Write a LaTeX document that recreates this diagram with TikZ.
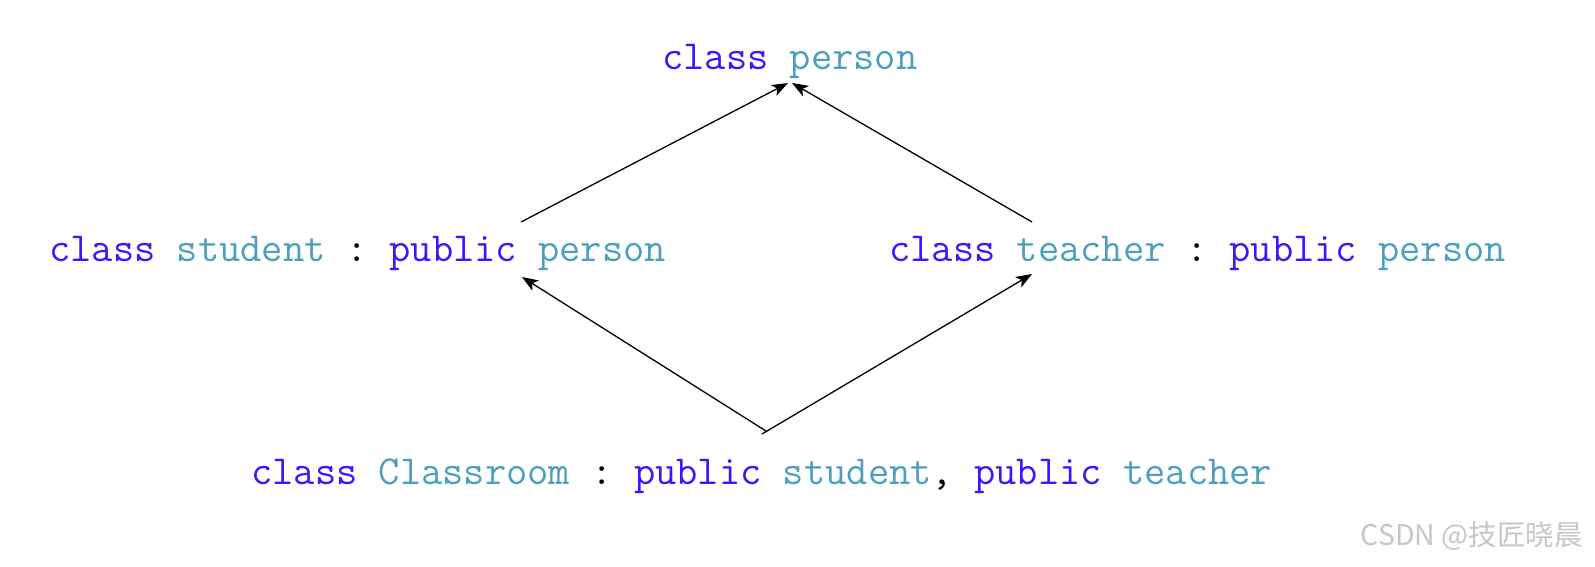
\documentclass[tikz,border=0pt]{standalone}
\usepackage{fontspec}
\usepackage{xcolor}
\usepackage{tikz}
\usetikzlibrary{arrows.meta, positioning, calc}
\setmonofont{Latin Modern Mono}
\newfontfamily\cjk{Noto Sans CJK SC}
\definecolor{kwblue}{RGB}{64,20,255}
\definecolor{typeteal}{RGB}{75,160,190}
\newcommand{\kw}[1]{\textcolor{kwblue}{#1}}
\newcommand{\ty}[1]{\textcolor{typeteal}{#1}}

\begin{document}
\begin{tikzpicture}[
    x=1pt, y=-1pt,
    decl/.style={anchor=base west, inner sep=0pt, font=\fontsize{41.3}{44}\selectfont\ttfamily},
    arr/.style={-{Stealth[length=16pt, width=12pt, inset=4pt]}, line width=1.3pt}
  ]
  \useasboundingbox (0,0) rectangle (1595,566);

  % Base class
  \node[decl] (person) at (662,69) {\kw{class} \ty{person}};

  % Derived classes
  \node[decl] (student) at (49,261) {\kw{class} \ty{student} : \kw{public} \ty{person}};
  \node[decl] (teacher) at (889,261) {\kw{class} \ty{teacher} : \kw{public} \ty{person}};

  % Most derived class
  \node[decl] (classroom) at (251,484) {\kw{class} \ty{Classroom} : \kw{public} \ty{student}, \kw{public} \ty{teacher}};

  % Arrow ends
  \coordinate (pTipL) at (788,83);
  \coordinate (pTipR) at (792,83);
  \coordinate (sTop) at (521,222);
  \coordinate (tTop) at (1032,222);
  \coordinate (sTip) at (522,277);
  \coordinate (tTip) at (1032,274);
  \coordinate (apex) at (766,431);

  \draw[arr] (sTop) -- (pTipL);
  \draw[arr] (tTop) -- (pTipR);
  \draw[arr] (apex) -- (sTip);
  \draw[arr] ($(apex)+(-4,3)$) -- (tTip);

  % Watermark
  \node[anchor=base east, inner sep=0pt, text=gray!45, font=\cjk\fontsize{28.5}{31}\selectfont] (mark) at (1583,545) {CSDN @技匠晓晨};
\end{tikzpicture}
\end{document}
